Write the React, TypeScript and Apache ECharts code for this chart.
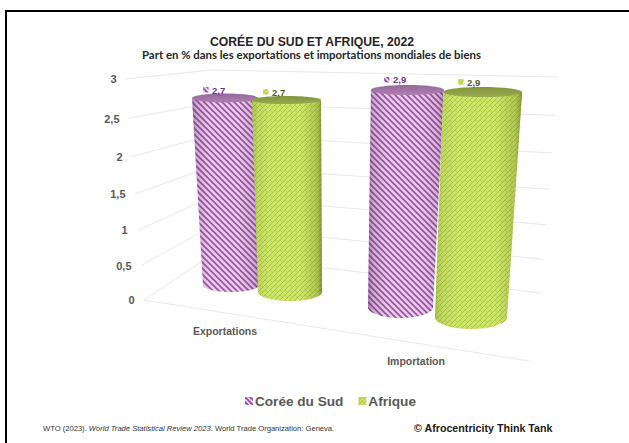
import React, { useEffect, useRef } from "react";
import * as echarts from "echarts";

const categories = ["Exportations", "Importation"];
const seriesNames = ["Corée du Sud", "Afrique"];
const coreeValues = [2.7, 2.9];
const afriqueValues = [2.7, 2.9];
const yTicks = [0, 0.5, 1, 1.5, 2, 2.5, 3];
const yTickLabels = ["0", "0,5", "1", "1,5", "2", "2,5", "3"];
const titleText = "CORÉE DU SUD ET AFRIQUE, 2022";
const subtitleText = "Part en % dans les exportations et importations mondiales de biens";
const copyrightText = "© Afrocentricity Think Tank";

const FONT = "'Liberation Sans', Arial, sans-serif";
const GRAY = "#595959";

// Perspective geometry of each cylinder, relative to the axis position of its category
// [series][category]: base offset, base radii, radius gain per unit, lean per unit, height scale, label offset
const GEOM = [
  [
    { dx: -29, dy: -15, rx: 28, ry: 7, drx: 1.85, dry: -0.93, lean: -2.2, k: 0.94, lx: -19, ly: -8 },
    { dx: -34.5, dy: 7, rx: 32.5, ry: 11, drx: 1.38, dry: -2.07, lean: 2.4, k: 1.016, lx: -20.5, ly: -10 },
  ],
  [
    { dx: 30, dy: -8, rx: 32, ry: 9, drx: 0.93, dry: -1.85, lean: -1.3, k: 0.965, lx: -20.5, ly: -8 },
    { dx: 36, dy: 17, rx: 36, ry: 12, drx: 1.2, dry: -2.41, lean: 4, k: 1.053, lx: -21.5, ly: -10 },
  ],
];
const STYLE = [
  { cap: "#ab7fae", capDark: "#98699c", shade: "80,35,95", label: "#7030a0", edge: [0.45, 0.2, 0.02, 0.02, 0.18, 0.4] },
  { cap: "#97a94e", capDark: "#84953b", shade: "70,85,5", label: "#4f6228", edge: [0.25, 0.1, 0, 0, 0.22, 0.55] },
];
// per-label shift along the perspective of the axis: [padding top, padding right]
const TICK_SHIFT = [
  [0, 0],
  [6, 3],
  [7, 7],
  [9, 9],
  [9, 12],
  [6, 15],
  [0, 18],
];

function stripePattern(size: number, w: number) {
  const c = document.createElement("canvas");
  c.width = size;
  c.height = size;
  const g = c.getContext("2d")!;
  g.fillStyle = "#f3cdf0";
  g.fillRect(0, 0, size, size);
  g.strokeStyle = "#93569f";
  g.lineWidth = w;
  for (let i = -size; i <= size; i += size) {
    g.beginPath();
    g.moveTo(i - 1, -1);
    g.lineTo(i + size + 1, size + 1);
    g.stroke();
  }
  return { image: c, repeat: "repeat", imageWidth: size, imageHeight: size } as any;
}

function weavePattern(size: number) {
  const c = document.createElement("canvas");
  c.width = size;
  c.height = size;
  const g = c.getContext("2d")!;
  g.fillStyle = "#cde668";
  g.fillRect(0, 0, size, size);
  g.strokeStyle = "#adc64a";
  g.lineWidth = 1;
  for (let i = -size; i <= size; i += size) {
    g.beginPath();
    g.moveTo(i - 1, size + 1);
    g.lineTo(i + size + 1, -1);
    g.stroke();
  }
  g.strokeStyle = "rgba(160,185,60,0.5)";
  for (let i = -size; i <= size; i += size) {
    g.beginPath();
    g.moveTo(i - 1, -1);
    g.lineTo(i + size / 2, size / 2);
    g.stroke();
  }
  return { image: c, repeat: "repeat", imageWidth: size, imageHeight: size } as any;
}

function cylinder(seriesIndex: number, pattern: any, iconPattern: any) {
  return (params: any, api: any) => {
    const cat = api.value(0);
    const v = api.value(1);
    const g = GEOM[seriesIndex][cat];
    const st = STYLE[seriesIndex];
    const base = api.coord([cat, 0]);
    const top = api.coord([cat, v]);
    const cxB = base[0] + g.dx;
    const cyB = base[1] + g.dy;
    const cxT = cxB + g.lean * v;
    const cyT = cyB - (base[1] - top[1]) * g.k;
    const rxT = g.rx + g.drx * v;
    const ryT = g.ry + g.dry * v;
    const pts: number[][] = [[cxT - rxT, cyT]];
    for (let a = 180; a >= 0; a -= 6) {
      const r = (a * Math.PI) / 180;
      pts.push([cxB + g.rx * Math.cos(r), cyB + g.ry * Math.sin(r)]);
    }
    pts.push([cxT + rxT, cyT]);
    const shade = (o: number) => `rgba(${st.shade},${o})`;
    const e = st.edge;
    return {
      type: "group",
      children: [
        { type: "polygon", shape: { points: pts }, style: { fill: pattern, stroke: null } },
        {
          type: "polygon",
          shape: { points: pts },
          style: {
            stroke: null,
            fill: new echarts.graphic.LinearGradient(0, 0, 1, 0, [
              { offset: 0, color: shade(e[0]) },
              { offset: 0.07, color: shade(e[1]) },
              { offset: 0.25, color: shade(e[2]) },
              { offset: 0.7, color: shade(e[3]) },
              { offset: 0.93, color: shade(e[4]) },
              { offset: 1, color: shade(e[5]) },
            ]),
          },
        },
        {
          type: "ellipse",
          shape: { cx: cxT, cy: cyT, rx: rxT, ry: ryT },
          style: {
            fill: new echarts.graphic.LinearGradient(0, 0, 0, 1, [
              { offset: 0, color: st.capDark },
              { offset: 1, color: st.cap },
            ]),
            stroke: null,
          },
        },
        {
          type: "rect",
          shape: { x: cxT + g.lx - 3, y: cyT + g.ly - 3, width: 5.5, height: 5.5 },
          style: { fill: iconPattern, stroke: null },
        },
        {
          type: "text",
          x: cxT + g.lx + 6,
          y: cyT + g.ly,
          style: {
            text: String(v).replace(".", ","),
            fill: st.label,
            font: `bold 9.5px ${FONT}`,
            verticalAlign: "middle",
            align: "left",
          },
        },
      ],
    };
  };
}

// Walls of the chart box, drawn in perspective from the value axis
const WALL = { left: [144, 125], apexX: 212, apexY: [255, 70], right: [541, 558], rightY: [293, 77], leftY: [300, 79] };
function perspective(f: number) {
  const k = 0.077;
  return (f * (1 - k)) / (1 - k * f);
}
function renderWall(params: any, api: any) {
  const v = api.value(1);
  const y0 = api.coord([0, 0])[1];
  const y3 = api.coord([0, 3])[1];
  const f = perspective((y0 - api.coord([0, v])[1]) / (y0 - y3));
  const mix = (a: number[]) => a[0] + (a[1] - a[0]) * f;
  const line = { stroke: "#e9e9e9", lineWidth: 1, fill: null };
  const children: any[] = [
    {
      type: "polyline",
      shape: {
        points: [
          [mix(WALL.left), mix(WALL.leftY)],
          [WALL.apexX, mix(WALL.apexY)],
          [mix(WALL.right), mix(WALL.rightY)],
        ],
      },
      style: line,
    },
  ];
  if (v === 0) {
    children.push({
      type: "line",
      shape: { x1: WALL.left[0], y1: WALL.leftY[0], x2: 529, y2: 361 },
      style: line,
    });
  }
  return { type: "group", children };
}

export default function App() {
  const ref = useRef<HTMLDivElement>(null);
  useEffect(() => {
    const chart = echarts.init(ref.current!, null, { renderer: "svg" });
    const purple = stripePattern(6, 1.6);
    const green = weavePattern(5);
    const purpleIcon = stripePattern(5, 1.8);
    const greenIcon = weavePattern(4);
    const axisFont = { fontFamily: FONT, fontWeight: "bold", color: GRAY };
    const rich: any = {};
    TICK_SHIFT.forEach((s, i) => {
      rich["t" + i] = { padding: [s[0], s[1], 0, 0], fontSize: 11, ...axisFont };
    });
    chart.setOption({
      animation: false,
      backgroundColor: "#ffffff",
      title: [
        { text: titleText, left: 205, top: 31, textStyle: { fontFamily: FONT, fontSize: 12.2, fontWeight: "bold", color: "#262626" } },
        { text: subtitleText, left: 137, top: 44, textStyle: { fontFamily: "Lato", fontSize: 11.4, fontWeight: "bold", color: "#262626" } },
        {
          text: "{a|WTO (2023). }{i|World Trade Statistical Review 2023.}{a| World Trade Organization: Geneva.}",
          left: 38,
          top: 419,
          textStyle: {
            fontWeight: "normal",
            rich: {
              a: { fontFamily: FONT, fontSize: 7.6, fontWeight: "normal", color: "#333" },
              i: { fontFamily: FONT, fontSize: 7.6, fontWeight: "normal", fontStyle: "italic", color: "#333" },
            },
          },
        },
        { text: copyrightText, left: 409, top: 417, textStyle: { fontFamily: FONT, fontSize: 10.7, fontWeight: "bold", color: "#1a1a1a" } },
      ],
      legend: {
        left: 240,
        top: 389,
        itemWidth: 8,
        itemHeight: 8,
        itemGap: 15,
        textStyle: { fontFamily: FONT, fontSize: 13.6, fontWeight: "bold", color: GRAY, padding: [0, 0, 0, -3] },
        data: [
          { name: seriesNames[0], icon: "rect", itemStyle: { color: purpleIcon } },
          { name: seriesNames[1], icon: "rect", itemStyle: { color: greenIcon } },
        ],
      },
      grid: { left: 172.5, width: 350, top: 79, height: 221 },
      xAxis: {
        type: "category",
        data: categories,
        axisLine: { show: false },
        axisTick: { show: false },
        splitLine: { show: false },
        axisLabel: {
          margin: 25,
          interval: 0,
          formatter: (_: string, i: number) => `{c${i}|${categories[i]}}`,
          rich: {
            c0: { padding: [0, 70, 0, 0], fontSize: 10.5, ...axisFont },
            c1: { padding: [30, 38, 0, 0], fontSize: 10.5, ...axisFont },
          },
        },
      },
      yAxis: {
        type: "value",
        min: 0,
        max: 3,
        interval: 0.5,
        axisLine: { show: false },
        axisTick: { show: false },
        splitLine: { show: false },
        axisLabel: {
          margin: 38,
          formatter: (v: number) => {
            const i = yTicks.indexOf(v);
            return `{t${i}|${yTickLabels[i]}}`;
          },
          rich,
        },
      },
      series: [
        {
          type: "custom",
          name: "walls",
          silent: true,
          clip: false,
          renderItem: renderWall,
          data: yTicks.map((v) => [0, v]),
        },
        {
          type: "custom",
          name: seriesNames[0],
          clip: false,
          itemStyle: { color: purpleIcon },
          renderItem: cylinder(0, purple, purpleIcon),
          data: coreeValues.map((v, i) => [i, v]),
        },
        {
          type: "custom",
          name: seriesNames[1],
          clip: false,
          itemStyle: { color: greenIcon },
          renderItem: cylinder(1, green, greenIcon),
          data: afriqueValues.map((v, i) => [i, v]),
        },
      ],
      graphic: [
        { type: "rect", shape: { x: 5, y: 10, width: 624, height: 2 }, style: { fill: "#000" } },
        { type: "rect", shape: { x: 5, y: 10, width: 2, height: 433 }, style: { fill: "#000" } },
      ],
    });
    return () => chart.dispose();
  }, []);
  return <div ref={ref} style={{ position: "fixed", left: 0, top: 0, width: 629, height: 443 }} />;
}
